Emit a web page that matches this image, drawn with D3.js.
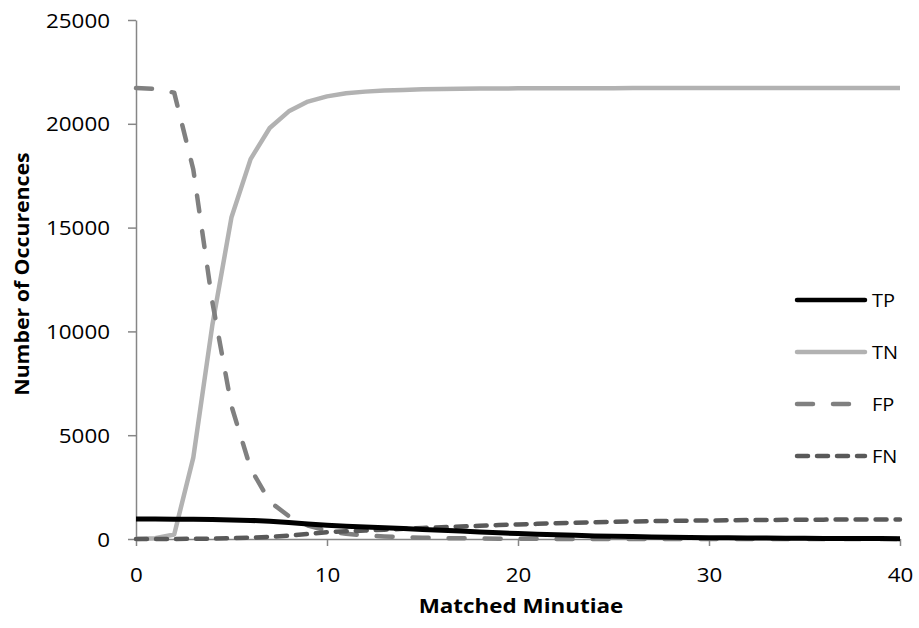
<!DOCTYPE html>
<html lang="en">
<head>
  <meta charset="UTF-8" />
  <title>Matched Minutiae</title>
  <script src="https://cdn.jsdelivr.net/npm/d3@7"></script>
  <style>
    body { margin: 0; background: #fff; }
    text { font-family: "Open Sans", sans-serif; fill: #000; }
    .axis path, .axis line { stroke: #868686; stroke-width: 1.5; }
  </style>
</head>
<body>
  <svg id="chart" width="919" height="628"></svg>
  <script>
    // values, x = 0..40
    let minutiae = d3.range(0, 41);
    let tp = [960, 958, 955, 950, 940, 920, 895, 860, 800, 720, 660, 620, 580, 540, 500, 460, 420, 380, 340, 300,
      260, 230, 200, 175, 150, 130, 115, 100, 88, 76, 66, 58, 50, 44, 38, 33, 29, 25, 22, 20, 18];
    let tn = [0, 40, 220, 3920, 10320, 15500, 18300, 19800, 20600, 21070, 21320, 21470, 21550, 21600, 21630,
      21660, 21675, 21685, 21695, 21702, 21708, 21712, 21714, 21716, 21717, 21718, 21719, 21719, 21720, 21720,
      21720, 21720, 21720, 21720, 21720, 21720, 21720, 21720, 21720, 21720, 21720];
    let fp = [21720, 21680, 21500, 17800, 11400, 6400, 3400, 1800, 1100, 650, 400, 250, 170, 120, 90, 60, 45, 35,
      25, 18, 12, 8, 6, 4, 3, 2, 1, 1, 0, 0, 0, 0, 0, 0, 0, 0, 0, 0, 0, 0, 0];
    let fn = [0, 2, 5, 10, 20, 40, 65, 100, 160, 240, 330, 370, 410, 450, 490, 530, 565, 600, 635, 670, 700, 730,
      760, 785, 810, 830, 845, 860, 872, 884, 894, 902, 910, 917, 923, 928, 933, 937, 940, 942, 944];
    let xTicks = [0, 10, 20, 30, 40];
    let yTicks = [0, 5000, 10000, 15000, 20000, 25000];

    let series = [
      { name: "TP", values: tp, color: "#000000", dash: null },
      { name: "TN", values: tn, color: "#b2b2b2", dash: null },
      { name: "FP", values: fp, color: "#808080", dash: "16,20" },
      { name: "FN", values: fn, color: "#595959", dash: "11,9" }
    ];

    let svg = d3.select("#chart");
    let sx = 1.12; // horizontal stretch of the text

    let x = d3.scaleLinear().domain([0, 40]).range([136, 900]);
    let y = d3.scaleLinear().domain([0, 25000]).range([539, 20]);

    // axes
    let xAxis = svg.append("g")
      .attr("class", "axis")
      .attr("transform", "translate(0,539)")
      .call(d3.axisBottom(x).tickValues(xTicks).tickFormat(d3.format("d")).tickSize(7).tickSizeOuter(0));
    xAxis.selectAll("text")
      .attr("y", 0).attr("dy", "0.35em")
      .attr("transform", "translate(0,36) scale(" + sx + ",1)")
      .style("font-size", "20px");

    let yAxis = svg.append("g")
      .attr("class", "axis")
      .attr("transform", "translate(136,0)")
      .call(d3.axisLeft(y).tickValues(yTicks).tickFormat(d3.format("d")).tickSize(8).tickSizeOuter(0));
    yAxis.selectAll("text")
      .attr("x", 0).attr("dy", "0.35em")
      .attr("transform", "translate(-26,0) scale(" + sx + ",1)")
      .style("font-size", "20px");
    svg.selectAll(".axis text").style("fill", "#000").attr("font-family", null);

    // lines
    let line = d3.line()
      .x(function (d, i) { return x(minutiae[i]); })
      .y(function (d) { return y(d); });

    // draw in back-to-front order
    let order = ["TN", "FP", "FN", "TP"];
    order.forEach(function (name) {
      let s = series.find(function (d) { return d.name === name; });
      svg.append("path")
        .datum(s.values)
        .attr("fill", "none")
        .attr("stroke", s.color)
        .attr("stroke-width", name === "TP" ? 5 : 4.5)
        .attr("stroke-linecap", s.dash ? "round" : "butt")
        .attr("stroke-linejoin", "round")
        .attr("stroke-dasharray", s.dash)
        .attr("d", line);
    });

    // legend
    let legend = svg.append("g").attr("transform", "translate(795,300)");
    series.forEach(function (s, i) {
      let g = legend.append("g").attr("transform", "translate(0," + i * 52 + ")");
      g.append("line")
        .attr("x1", 2).attr("x2", 70)
        .attr("stroke", s.color)
        .attr("stroke-width", 4.5)
        .attr("stroke-linecap", "round")
        .attr("stroke-dasharray", s.dash);
      g.append("text")
        .attr("x", 0).attr("dy", "0.35em")
        .attr("transform", "translate(77,0) scale(1.05,1)")
        .style("font-size", "19px")
        .text(s.name);
    });

    // axis titles
    svg.append("text")
      .attr("text-anchor", "middle")
      .attr("dy", "0.35em")
      .attr("transform", "translate(521,606) scale(1.18,1)")
      .style("font-size", "19px")
      .style("font-weight", "bold")
      .text("Matched Minutiae");

    svg.append("text")
      .attr("text-anchor", "middle")
      .attr("dy", "0.35em")
      .attr("transform", "translate(22,274) rotate(-90) scale(1.12,1)")
      .style("font-size", "19px")
      .style("font-weight", "bold")
      .text("Number of Occurences");
  </script>
</body>
</html>
